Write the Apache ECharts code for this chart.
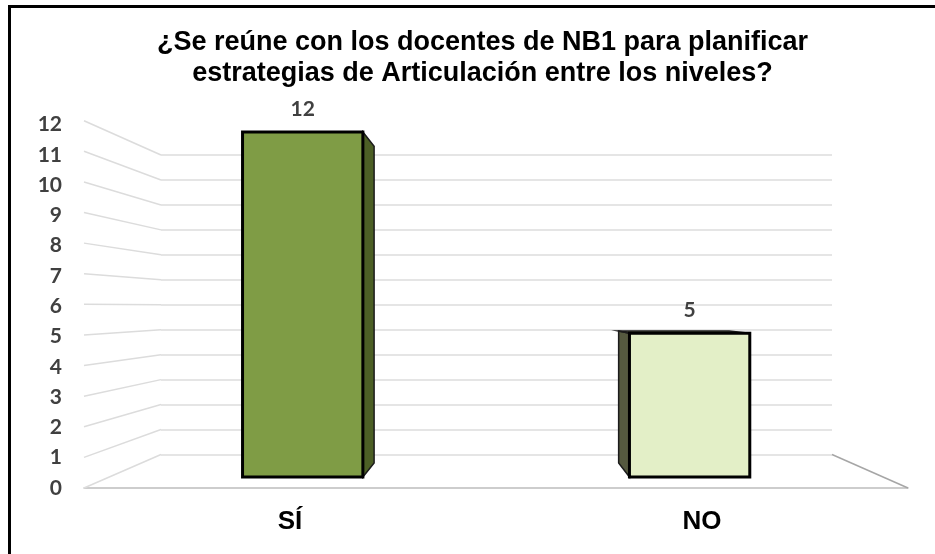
<!DOCTYPE html>
<html><head><meta charset="utf-8">
<style>html,body{margin:0;padding:0;background:#fff}#c{width:935px;height:554px}</style>
<script src="https://cdn.jsdelivr.net/npm/echarts@6/dist/echarts.min.js"></script>
</head><body><div id="c"></div>
<script>
const titleLines = ['¿Se reúne con los docentes de NB1 para planificar','estrategias de Articulación entre los niveles?'];
const categories = ['SÍ','NO'];
const values = [12,5];
const tickValues = [0,1,2,3,4,5,6,7,8,9,10,11,12];
const faceColors = ['#7f9c45','#e3efc7'];
const sideColors = ['#4c5f25','#55593f'];

const front = {left:84,right:27,top:120.7,bottom:66};
const back  = {left:161,right:103,top:155,bottom:99.5};
const labelTop = 124.5;
const barFrontDepth = 0.328, barBackDepth = 0.746, barShare = 0.311;

const chart = echarts.init(document.getElementById('c'),null,{renderer:'canvas'});

function projector(){
  // interpolates between the front axis plane and the back wall
  const frontW = 935-front.left-front.right, backW = 935-back.left-back.right;
  const frontH = 554-front.top-front.bottom, backH = 554-back.top-back.bottom;
  return function(xFrac,v,t){
    const fx = front.left + xFrac*frontW, fy = (554-front.bottom) - v/12*frontH;
    const bx = back.left + xFrac*backW,  by = (554-back.bottom) - v/12*backH;
    return [fx+(bx-fx)*t, fy+(by-fy)*t];
  };
}
function poly(points,fill,stroke,w){
  return {type:'polygon',shape:{points},style:{fill:fill,stroke:stroke,lineWidth:w,lineJoin:'miter'}};
}
const option = {
  backgroundColor:'#fff',animation:false,
  graphic:[
    {type:'rect',z:100,silent:true,shape:{x:8,y:5,width:927,height:3},style:{fill:'#000'}},
    {type:'rect',z:100,silent:true,shape:{x:8,y:5,width:3,height:549},style:{fill:'#000'}}
  ],
  title:{text:titleLines.join('\n'),left:477.5,top:22,textAlign:'center',
    textStyle:{fontFamily:'Liberation Sans',fontWeight:'bold',fontSize:27,lineHeight:31,color:'#000'}},
  grid:[
    {left:front.left,right:front.right,top:labelTop,bottom:front.bottom},
    {left:back.left,right:back.right,top:back.top,bottom:back.bottom}
  ],
  xAxis:[
    {gridIndex:0,type:'category',data:categories,axisTick:{show:false},axisLine:{show:true,lineStyle:{color:'#bdbdbd',width:1.5}},
      axisLabel:{margin:21,fontFamily:'Liberation Sans',fontWeight:'bold',fontSize:26,color:'#000'}},
    {gridIndex:1,type:'category',data:categories,axisTick:{show:false},axisLabel:{show:false},axisLine:{show:false}}
  ],
  yAxis:[
    {gridIndex:0,type:'value',min:0,max:12,interval:1,axisLine:{show:false},axisTick:{show:false},splitLine:{show:false},
      axisLabel:{margin:22,fontFamily:'Lato',fontWeight:'bold',fontSize:21,color:'#404040'}},
    {gridIndex:1,type:'value',min:0,max:12,interval:1,axisLine:{show:false},axisTick:{show:false},axisLabel:{show:false},
      splitLine:{show:true,lineStyle:{color:'#dcdcdc',width:1.5}}}
  ],
  series:[
    {type:'custom',name:'piso',xAxisIndex:0,yAxisIndex:0,z:2,silent:true,clip:false,
      data:tickValues,
      renderItem(params,api){
        const p = projector(), v = api.value(0);
        return {type:'line',shape:{x1:p(0,v,0)[0],y1:p(0,v,0)[1],x2:p(0,v,1)[0],y2:p(0,v,1)[1]},
          style:{stroke:'#dcdcdc',lineWidth:1.5}};
      }},
    {type:'custom',name:'borde',xAxisIndex:0,yAxisIndex:0,z:2,silent:true,clip:false,
      data:[0],
      renderItem(params,api){
        const p = projector();
        return {type:'line',shape:{x1:p(1,0,0)[0],y1:p(1,0,0)[1],x2:p(1,0,1)[0],y2:p(1,0,1)[1]},
          style:{stroke:'#a6a6a6',lineWidth:1.5}};
      }},
    {type:'custom',name:'Respuestas',xAxisIndex:0,yAxisIndex:0,z:5,silent:true,clip:false,
      data:values.map((v,i)=>[i,v]),
      renderItem(params,api){
        const p = projector(), i = api.value(0), v = api.value(1);
        const c = (i+0.5)/categories.length, hw = barShare/categories.length/2;
        const fl=c-hw, fr=c+hw;
        const a=p(fl,0,barFrontDepth), b=p(fr,0,barFrontDepth), d=p(fr,v,barFrontDepth), e=p(fl,v,barFrontDepth);
        const a2=p(fl,0,barBackDepth), b2=p(fr,0,barBackDepth), d2=p(fr,v,barBackDepth), e2=p(fl,v,barBackDepth);
        const kids=[];
        // visible side faces the chart centre; the top shows only below eye level
        if(i===0) kids.push(poly([b,b2,d2,d],sideColors[i],'#1c1c1c',1.5));
        else kids.push(poly([e,e2,a2,a],sideColors[i],'#1c1c1c',1.5));
        if(d2[1]<d[1]) kids.push(poly([e,e2,d2,d],sideColors[i],'#1c1c1c',1.5));
        kids.push(poly([a,b,d,e],faceColors[i],'#000',3));
        kids.push({type:'text',style:{text:String(v),x:(e[0]+d[0])/2,y:e[1]-23,align:'center',verticalAlign:'middle',
          font:'bold 21px "Lato"',fill:'#404040'}});
        return {type:'group',children:kids};
      }}
  ]
};
chart.setOption(option);
</script></body></html>
